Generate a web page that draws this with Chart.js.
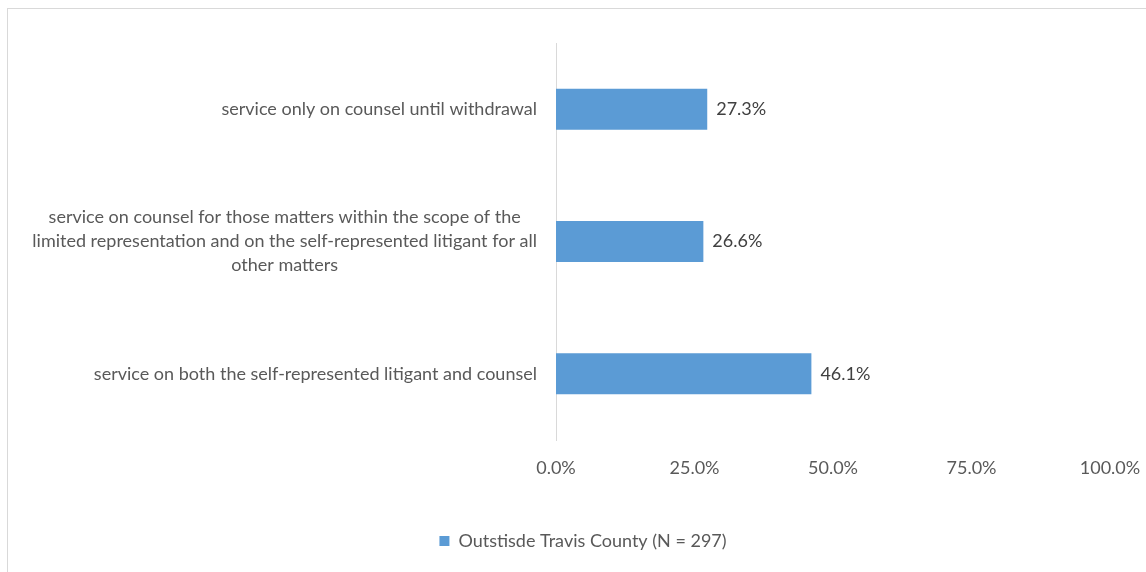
<!DOCTYPE html>
<html>
<head>
<meta charset="utf-8">
<script src="https://cdn.jsdelivr.net/npm/chart.js@4"></script>
<style>
  html, body { margin: 0; padding: 0; background: #fff; }
  #wrap { position: relative; width: 1146px; height: 572px; overflow: hidden; }
  #frame { position: absolute; left: 7px; top: 8px; width: 1200px; height: 600px;
           border-top: 1px solid #d9d9d9; border-left: 1px solid #d9d9d9; }
  canvas { position: absolute; left: 0; top: 0; }
</style>
</head>
<body>
<div id="wrap">
  <div id="frame"></div>
  <canvas id="chart" width="1146" height="572"></canvas>
</div>
<script>
var categories = [
    ["service only on counsel until withdrawal"],
    ["service on counsel for those matters within the scope of the",
     "limited representation and on the self-represented litigant for all",
     "other matters"],
    ["service on both the self-represented litigant and counsel"]
];
var seriesName = "Outstisde Travis County (N = 297)";
var shares = [27.3, 26.6, 46.1];
var xTicks = [0, 25, 50, 75, 100];

var FONT = "Lato, 'Open Sans', sans-serif";
var SIZE = 18;
var GREY = "#595959";

// category labels: each block centred on itself, right edge against the axis
var catLabels = {
    id: 'catLabels',
    afterDraw: function (chart) {
        var ctx = chart.ctx;
        var y = chart.scales.y;
        var right = chart.chartArea.left - 19;
        var lh = 24;
        ctx.save();
        ctx.font = SIZE + "px " + FONT;
        ctx.fillStyle = GREY;
        ctx.textAlign = 'center';
        ctx.textBaseline = 'middle';
        categories.forEach(function (lines, i) {
            var w = 0;
            lines.forEach(function (l) { w = Math.max(w, ctx.measureText(l).width); });
            var cx = right - w / 2;
            var cy = y.getPixelForTick(i);
            var top = cy - (lines.length - 1) * lh / 2;
            lines.forEach(function (l, k) { ctx.fillText(l, cx, top + k * lh); });
        });
        ctx.restore();
    }
};

// value labels at the end of each bar
var valueLabels = {
    id: 'valueLabels',
    afterDatasetsDraw: function (chart) {
        var ctx = chart.ctx;
        var meta = chart.getDatasetMeta(0);
        ctx.save();
        ctx.font = SIZE + "px " + FONT;
        ctx.fillStyle = "#404040";
        ctx.textAlign = 'left';
        ctx.textBaseline = 'middle';
        meta.data.forEach(function (bar, i) {
            ctx.fillText(shares[i].toFixed(1) + '%', bar.x + 9, bar.y);
        });
        ctx.restore();
    }
};

new Chart(document.getElementById('chart'), {
    type: 'bar',
    data: {
        labels: categories.map(function (c) { return c.join(' '); }),
        datasets: [{
            label: seriesName,
            data: shares,
            backgroundColor: '#5b9bd5',
            borderWidth: 0,
            barPercentage: 0.62,
            categoryPercentage: 0.5
        }]
    },
    options: {
        indexAxis: 'y',
        responsive: false,
        animation: false,
        layout: { padding: { left: 20, right: 0, top: 43, bottom: 12 } },
        scales: {
            x: {
                min: 0,
                max: 100,
                afterBuildTicks: function (s) {
                    s.ticks = xTicks.map(function (v) { return { value: v }; });
                },
                afterFit: function (s) {
                    s.paddingRight = 36;
                    s.height = 82;
                },
                grid: { display: false },
                border: { display: false },
                ticks: {
                    padding: 9,
                    color: GREY,
                    font: { family: FONT, size: SIZE },
                    callback: function (v) { return v.toFixed(1) + '%'; }
                }
            },
            y: {
                afterFit: function (s) { s.width = 536; },
                grid: { display: false },
                border: { display: true, color: '#d9d9d9', width: 1 },
                ticks: { display: false }
            }
        },
        plugins: {
            legend: {
                position: 'bottom',
                labels: {
                    color: GREY,
                    font: { family: FONT, size: SIZE },
                    boxWidth: 10,
                    boxHeight: 10,
                    padding: 10
                }
            },
            tooltip: { enabled: false }
        }
    },
    plugins: [catLabels, valueLabels]
});
</script>
</body>
</html>
